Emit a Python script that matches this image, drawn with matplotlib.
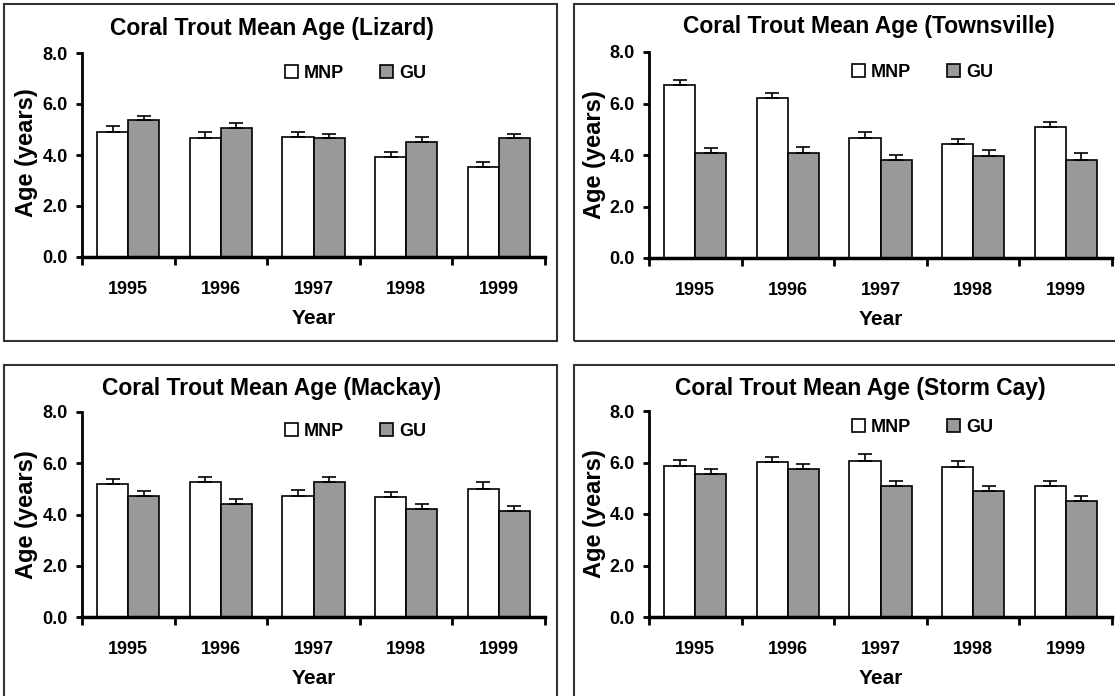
import numpy as np
import matplotlib.pyplot as plt
from matplotlib.patches import Rectangle
from matplotlib.ticker import FixedLocator, NullFormatter, FixedFormatter

plt.rcParams['font.family'] = ['Liberation Sans', 'DejaVu Sans']
plt.rcParams['font.weight'] = 'bold'

years = ['1995', '1996', '1997', '1998', '1999']

lizard_mnp = [4.90, 4.65, 4.71, 3.93, 3.53]
lizard_mnp_err = [0.25, 0.26, 0.20, 0.19, 0.20]
lizard_gu = [5.37, 5.04, 4.65, 4.52, 4.65]
lizard_gu_err = [0.17, 0.20, 0.19, 0.19, 0.19]

townsville_mnp = [6.72, 6.21, 4.67, 4.41, 5.10]
townsville_mnp_err = [0.20, 0.20, 0.24, 0.20, 0.20]
townsville_gu = [4.09, 4.09, 3.81, 3.96, 3.81]
townsville_gu_err = [0.19, 0.23, 0.18, 0.24, 0.28]

mackay_mnp = [5.18, 5.25, 4.74, 4.67, 5.00]
mackay_mnp_err = [0.20, 0.20, 0.20, 0.20, 0.27]
mackay_gu = [4.72, 4.41, 5.25, 4.21, 4.15]
mackay_gu_err = [0.20, 0.20, 0.20, 0.20, 0.20]

storm_mnp = [5.88, 6.01, 6.07, 5.82, 5.10]
storm_mnp_err = [0.20, 0.20, 0.26, 0.25, 0.19]
storm_gu = [5.56, 5.75, 5.10, 4.90, 4.51]
storm_gu_err = [0.19, 0.20, 0.19, 0.20, 0.20]

W, H = 1115, 696
GREY = '#999999'


def rect(x0, y0, x1, y1):
    # pixel box (top-left origin) -> figure fraction
    return [x0 / W, 1 - y1 / H, (x1 - x0) / W, (y1 - y0) / H]


fig = plt.figure(figsize=(W / 100, H / 100), dpi=100)

panels = [
    # name, mnp, mnp_err, gu, gu_err, box, axes box, title xy, ylabel xy, legend y
    ('Lizard', lizard_mnp, lizard_mnp_err, lizard_gu, lizard_gu_err,
     (4, 4, 557, 341), (82, 53, 545, 257), (272, 28), (27, 153), 0.90),
    ('Townsville', townsville_mnp, townsville_mnp_err, townsville_gu, townsville_gu_err,
     (574, 4, 1130, 341), (649, 52, 1112, 258), (869, 27), (595, 155), 0.90),
    ('Mackay', mackay_mnp, mackay_mnp_err, mackay_gu, mackay_gu_err,
     (4, 365, 557, 705), (82, 412, 545, 617), (272, 389), (27, 515), 0.905),
    ('Storm Cay', storm_mnp, storm_mnp_err, storm_gu, storm_gu_err,
     (574, 365, 1130, 705), (649, 411, 1112, 617), (860, 389), (595, 514), 0.92),
]

x = np.arange(len(years)) + 0.5
w = 0.335

for name, mnp, mnp_err, gu, gu_err, box, abox, txy, lxy, legy in panels:
    fig.patches.append(Rectangle((box[0] / W, 1 - box[3] / H), (box[2] - box[0]) / W,
                                 (box[3] - box[1]) / H, transform=fig.transFigure,
                                 fill=False, edgecolor='#333333', linewidth=1.5))
    ax = fig.add_axes(rect(*abox))
    ax.bar(x - w / 2, mnp, w, color='white', edgecolor='black', linewidth=1.2, label='MNP', zorder=2)
    ax.bar(x + w / 2, gu, w, color=GREY, edgecolor='black', linewidth=1.2, label='GU', zorder=2)
    ax.errorbar(x - w / 2, mnp, yerr=[np.zeros(5), mnp_err], fmt='none', ecolor='black',
                elinewidth=1.2, capsize=5, capthick=1.2, zorder=3)
    ax.errorbar(x + w / 2, gu, yerr=[np.zeros(5), gu_err], fmt='none', ecolor='black',
                elinewidth=1.2, capsize=5, capthick=1.2, zorder=3)

    ax.set_xlim(0, 5)
    ax.set_ylim(0, 8)
    ax.set_yticks([0, 2, 4, 6, 8])
    ax.set_yticklabels(['0.0', '2.0', '4.0', '6.0', '8.0'], fontsize=13, fontweight='bold')
    ax.xaxis.set_major_locator(FixedLocator(np.arange(6)))
    ax.xaxis.set_major_formatter(NullFormatter())
    ax.xaxis.set_minor_locator(FixedLocator(x))
    ax.xaxis.set_minor_formatter(FixedFormatter(years))
    ax.tick_params(axis='x', which='minor', length=0, pad=17, labelsize=13)
    ax.tick_params(axis='x', which='major', length=6, width=2, direction='out')
    ax.tick_params(axis='y', length=4, width=2, direction='out', pad=6)
    for lab in ax.get_xticklabels(minor=True):
        lab.set_fontweight('bold')

    for s in ['top', 'right']:
        ax.spines[s].set_visible(False)
    ax.spines['left'].set_linewidth(2)
    ax.spines['bottom'].set_linewidth(2.5)
    ax.patch.set_alpha(0)

    ax.set_xlabel('Year', fontsize=15, fontweight='bold', labelpad=8)
    fig.text(lxy[0] / W, 1 - lxy[1] / H, 'Age (years)', rotation=90, ha='center', va='center',
             fontsize=17, fontweight='bold')
    fig.text(txy[0] / W, 1 - txy[1] / H, 'Coral Trout Mean Age (%s)' % name,
             ha='center', va='center', fontsize=16.5, fontweight='bold')

    ax.legend(loc='center', bbox_to_anchor=(0.59, legy), ncol=2, frameon=False,
              handlelength=0.75, handleheight=0.75, handletextpad=0.3, columnspacing=2.0,
              prop={'size': 13, 'weight': 'bold'})

fig.savefig('out.png', dpi=100)
